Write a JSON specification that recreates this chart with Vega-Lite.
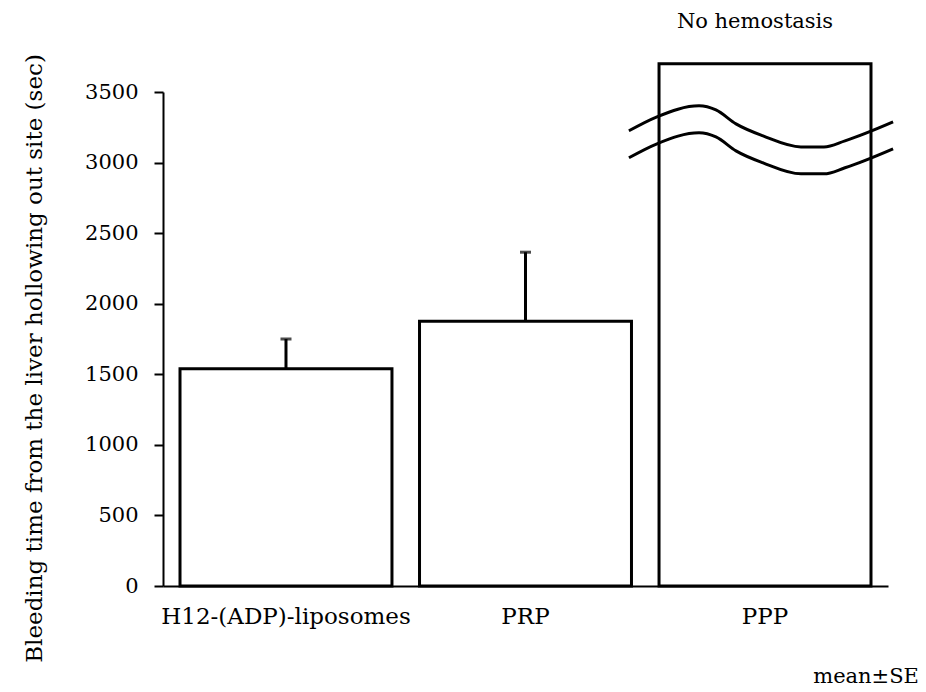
{
  "$schema": "https://vega.github.io/schema/vega-lite/v6.json",
  "width": 725,
  "height": 494,
  "autosize": "none",
  "padding": {"left": 163, "top": 92, "right": 38, "bottom": 106},
  "background": "white",
  "config": {
    "view": {"stroke": null},
    "font": "DejaVu Serif"
  },
  "resolve": {"scale": {"x": "independent"}},
  "layer": [
    {
      "data": {"values": [
        {"group": "H12-(ADP)-liposomes", "mean": 1540, "upper": 1750},
        {"group": "PRP", "mean": 1875, "upper": 2365},
        {"group": "PPP", "mean": 3700, "upper": null}
      ]},
      "layer": [
        {
          "mark": {"type": "bar", "fill": "white", "stroke": "black", "strokeWidth": 3},
          "encoding": {
            "x": {"field": "group", "type": "nominal", "sort": ["H12-(ADP)-liposomes", "PRP", "PPP"],
              "scale": {"paddingInner": 0.115, "paddingOuter": 0.071},
              "axis": {"title": null, "ticks": false, "labelAngle": 0, "labelLimit": 0, "labelFont": "DejaVu Serif", "labelFontSize": 23, "labelColor": "black", "labelPadding": 19, "domainColor": "black", "domainWidth": 2}},
            "y": {"field": "mean", "type": "quantitative",
              "title": "Bleeding time from the liver hollowing out site (sec)",
              "scale": {"domain": [0, 3500], "nice": false},
              "axis": {
                "values": [0, 250, 500, 750, 1000, 1250, 1500, 1750, 2000, 2250, 2500, 2750, 3000, 3250, 3500],
                "labelExpr": "datum.value % 500 === 0 ? datum.label : ''",
                "format": "d",
                "grid": false,
                "domainColor": "black", "domainWidth": 2,
                "tickColor": "black", "tickWidth": 2,
                "tickSize": {"condition": {"test": "datum.value % 500 !== 0", "value": 6}, "value": 9},
                "labelFont": "DejaVu Serif", "labelFontSize": 21, "labelColor": "black", "labelPadding": 16,
                "titleFont": "DejaVu Serif", "titleFontSize": 23, "titleFontWeight": "normal", "titleColor": "black", "titlePadding": 38,
                "titleY": 266
              }}
          }
        },
        {
          "mark": {"type": "rule", "stroke": "black", "strokeWidth": 3},
          "encoding": {
            "x": {"field": "group", "type": "nominal", "sort": ["H12-(ADP)-liposomes", "PRP", "PPP"]},
            "y": {"field": "mean", "type": "quantitative", "title": "Bleeding time from the liver hollowing out site (sec)"},
            "y2": {"field": "upper"}
          }
        },
        {
          "mark": {"type": "tick", "color": "black", "size": 11, "thickness": 3, "orient": "horizontal"},
          "encoding": {
            "x": {"field": "group", "type": "nominal", "sort": ["H12-(ADP)-liposomes", "PRP", "PPP"]},
            "y": {"field": "upper", "type": "quantitative", "title": "Bleeding time from the liver hollowing out site (sec)"}
          }
        },
        {
          "data": {"values": [{"group": "PPP", "label": "No hemostasis"}]},
          "mark": {"type": "text", "font": "DejaVu Serif", "fontSize": 21, "color": "black", "baseline": "alphabetic", "dx": -10},
          "encoding": {
            "x": {"field": "group", "type": "nominal", "sort": ["H12-(ADP)-liposomes", "PRP", "PPP"]},
            "y": {"datum": 3955},
            "text": {"field": "label"}
          }
        }
      ]
    },
    {
      "data": {"values": [
        {"line": "upper", "pos": 1.928, "value": 3225},
        {"line": "upper", "pos": 2.044, "value": 3324},
        {"line": "upper", "pos": 2.218, "value": 3402},
        {"line": "upper", "pos": 2.288, "value": 3373},
        {"line": "upper", "pos": 2.371, "value": 3274},
        {"line": "upper", "pos": 2.483, "value": 3189},
        {"line": "upper", "pos": 2.64, "value": 3111},
        {"line": "upper", "pos": 2.735, "value": 3111},
        {"line": "upper", "pos": 2.822, "value": 3154},
        {"line": "upper", "pos": 3.021, "value": 3288},
        {"line": "lower", "pos": 1.928, "value": 3034},
        {"line": "lower", "pos": 2.044, "value": 3133},
        {"line": "lower", "pos": 2.218, "value": 3211},
        {"line": "lower", "pos": 2.288, "value": 3182},
        {"line": "lower", "pos": 2.371, "value": 3083},
        {"line": "lower", "pos": 2.483, "value": 2998},
        {"line": "lower", "pos": 2.64, "value": 2920},
        {"line": "lower", "pos": 2.735, "value": 2920},
        {"line": "lower", "pos": 2.822, "value": 2963},
        {"line": "lower", "pos": 3.021, "value": 3097}
      ]},
      "layer": [
        {
          "mark": {"type": "line", "color": "black", "strokeWidth": 3, "interpolate": "monotone"},
          "encoding": {
            "x": {"field": "pos", "type": "quantitative", "scale": {"domain": [0, 3], "nice": false, "zero": false}, "axis": null},
            "y": {"field": "value", "type": "quantitative", "title": "Bleeding time from the liver hollowing out site (sec)"},
            "detail": {"field": "line"}
          }
        },
        {
          "data": {"values": [{"label": "mean±SE"}]},
          "mark": {"type": "text", "font": "DejaVu Serif", "fontSize": 21, "color": "black", "baseline": "alphabetic", "align": "right"},
          "encoding": {
            "x": {"datum": 3.128, "type": "quantitative"},
            "y": {"datum": -687},
            "text": {"field": "label"}
          }
        }
      ]
    }
  ]
}
